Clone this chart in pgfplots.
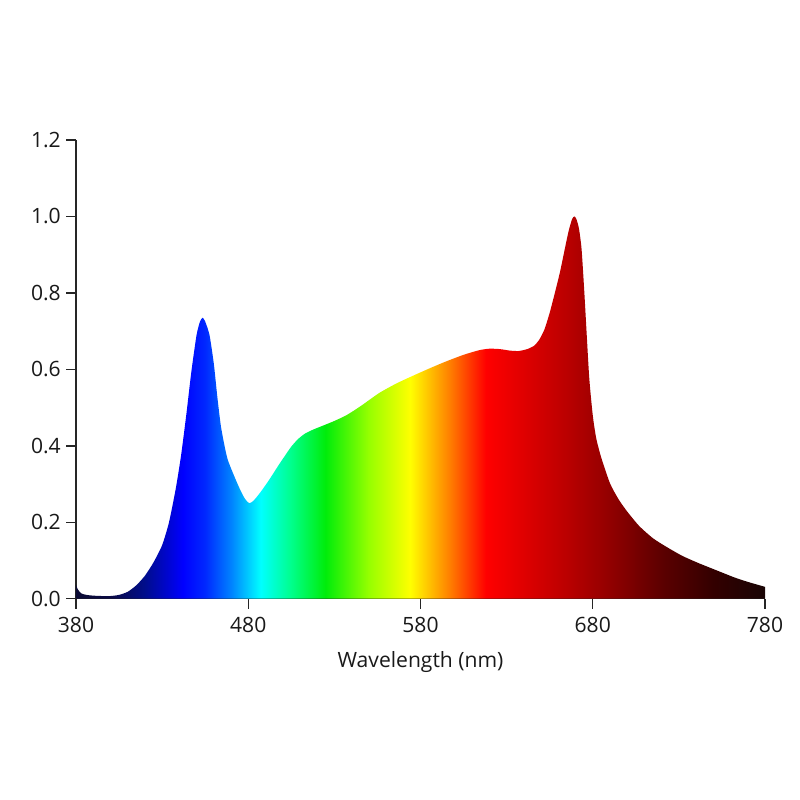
\documentclass[border=0pt]{standalone}
\usepackage{fontspec}
\setmainfont{Open Sans}
\usepackage{pgfplots}
\pgfplotsset{compat=1.18}
\usepackage{pgfplotstable}

% wavelength -> colour, 380 nm at 25bp and 780 nm at 75bp
\pgfdeclarehorizontalshading{spectrum}{100bp}{%
  rgb(0bp)=(0.04,0.04,0.2);
  rgb(25bp)=(0.04,0.04,0.2);
  rgb(27.5bp)=(0.04,0.04,0.27);
  rgb(30bp)=(0,0.05,0.55);
  rgb(32.75bp)=(0,0,1);
  rgb(34.4bp)=(0,0.16,1);
  rgb(36.25bp)=(0,0.51,1);
  rgb(38.4bp)=(0,1,1);
  rgb(40.6bp)=(0,1,0.55);
  rgb(43.1bp)=(0,0.93,0.04);
  rgb(46.25bp)=(0.59,1,0);
  rgb(49.25bp)=(1,1,0);
  rgb(52.1bp)=(1,0.5,0);
  rgb(54.75bp)=(1,0,0);
  rgb(60bp)=(0.76,0,0);
  rgb(63.75bp)=(0.57,0,0);
  rgb(67.5bp)=(0.36,0,0);
  rgb(71.25bp)=(0.2,0,0);
  rgb(75bp)=(0.1,0.02,0.02);
  rgb(100bp)=(0.1,0.02,0.02)}

\pgfplotstableread{
wl   val
380  0.036
381  0.025
383  0.014
386  0.010
390  0.008
395  0.007
400  0.007
405  0.010
410  0.018
415  0.035
420  0.060
425  0.095
430  0.140
434  0.200
438  0.290
441  0.375
444  0.480
447  0.595
450  0.690
452  0.725
453.5 0.735
455  0.725
457.5 0.690
460  0.615
462  0.530
464  0.455
466  0.405
468  0.365
471  0.330
475  0.288
478  0.262
480.5 0.250
483  0.256
487  0.278
492  0.310
497  0.345
501  0.372
505  0.398
509  0.418
513  0.432
518  0.443
523  0.452
530  0.465
537  0.480
545  0.503
556  0.538
566  0.563
576  0.584
586  0.604
595  0.621
605  0.638
614  0.650
620  0.654
626  0.653
632  0.649
637  0.648
642  0.653
646  0.662
649  0.678
652  0.705
655  0.748
658  0.800
661  0.855
664  0.920
666  0.962
668  0.993
669.3 1.000
670.5 0.993
672  0.968
673.5 0.915
675  0.810
676.5 0.690
678  0.575
680  0.480
682  0.420
685  0.368
690  0.302
695  0.260
700  0.228
707  0.190
715  0.158
723  0.135
732  0.112
742  0.092
752  0.074
762  0.056
770  0.044
780  0.031
}\spectrumdata

\begin{document}
\begin{tikzpicture}
\useasboundingbox (-1.52cm,-4.026cm) rectangle (14.48cm,11.974cm);
\begin{axis}[
    scale only axis,
    width=13.78cm,
    height=9.174cm,
    xmin=380, xmax=780,
    ymin=0, ymax=1.2,
    axis x line=bottom,
    axis y line=left,
    axis line style={-, line width=0.8pt, black!85},
    tick style={line width=0.8pt, black!85},
    tick align=outside,
    major tick length=0.2cm,
    xtick={380,480,580,680,780},
    ytick={0,0.2,0.4,0.6,0.8,1.0,1.2},
    yticklabel style={/pgf/number format/fixed, /pgf/number format/precision=1,
        /pgf/number format/fixed zerofill, xshift=0.02cm},
    xticklabel style={yshift=-0.04cm},
    /pgf/number format/assume math mode=true,
    ticklabel style={font=\fontsize{12}{14}\selectfont, black!90},
    xlabel={Wavelength (nm)},
    xlabel style={font=\fontsize{12}{14}\selectfont, black!90, yshift=-0.15cm},
]
\addplot[draw=none, shade, shading=spectrum, smooth, tension=0.4]
    table[x=wl, y=val] {\spectrumdata} \closedcycle;
\end{axis}
\end{tikzpicture}
\end{document}
